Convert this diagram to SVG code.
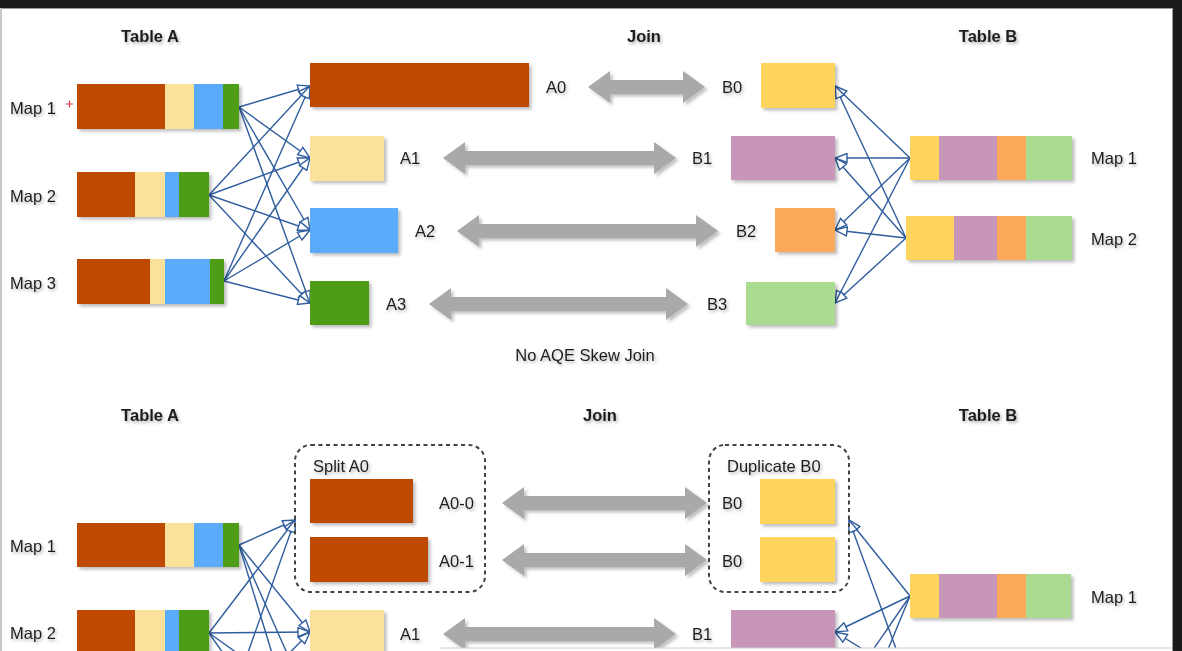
<svg xmlns="http://www.w3.org/2000/svg" width="1182" height="651" viewBox="0 0 1182 651">
<style>
.lbl{font-family:"Liberation Sans",Arial,sans-serif;font-size:16.5px;fill:#1e1e1e;filter:url(#tsh)}
.hdr{font-weight:bold}
.conn{stroke:#2f5d9e;stroke-width:1.4;fill:none;marker-end:url(#ah)}
.jar{fill:#a9a9a9;filter:url(#sh)}
.box{filter:url(#sh)}
.dash{fill:none;stroke:#444;stroke-width:2;stroke-dasharray:4 3.5}
.br{fill:#bf4a00}.ly{fill:#fbe19a}.bl{fill:#5aabfa}.gr{fill:#4d9d12}
.yb{fill:#fed45b}.pu{fill:#c796b8}.or{fill:#fda95c}.lg{fill:#a9db90}
</style>
<defs>
<filter id="sh" x="-10%" y="-20%" width="130%" height="150%"><feDropShadow dx="2.5" dy="2.5" stdDeviation="1.8" flood-color="#000" flood-opacity="0.25"/></filter>
<filter id="tsh" x="-10%" y="-30%" width="130%" height="170%"><feDropShadow dx="1.5" dy="2" stdDeviation="1.4" flood-color="#000" flood-opacity="0.3"/></filter>
<marker id="ah" markerUnits="userSpaceOnUse" viewBox="0 0 14 11" markerWidth="14" markerHeight="11" refX="13" refY="5.5" orient="auto"><path d="M1,1 L13,5.5 L1,10 Z" fill="#fff" stroke="#2f5d9e" stroke-width="1.4"/></marker>
</defs>
<rect x="0" y="0" width="1182" height="651" fill="#ffffff"/>

<g id="headers">
<text class="lbl hdr" x="150" y="42" text-anchor="middle">Table A</text>
<text class="lbl hdr" x="644" y="42" text-anchor="middle">Join</text>
<text class="lbl hdr" x="988" y="42" text-anchor="middle">Table B</text>
<text class="lbl" x="585" y="361" text-anchor="middle">No AQE Skew Join</text>
<text class="lbl hdr" x="150" y="421" text-anchor="middle">Table A</text>
<text class="lbl hdr" x="600" y="421" text-anchor="middle">Join</text>
<text class="lbl hdr" x="988" y="421" text-anchor="middle">Table B</text>
</g>

<g id="connectors">
<line class="conn" x1="239" y1="107" x2="310" y2="86"/>
<line class="conn" x1="239" y1="107" x2="310" y2="158"/>
<line class="conn" x1="239" y1="107" x2="310" y2="230"/>
<line class="conn" x1="239" y1="107" x2="310" y2="303"/>
<line class="conn" x1="209" y1="195" x2="310" y2="86"/>
<line class="conn" x1="209" y1="195" x2="310" y2="158"/>
<line class="conn" x1="209" y1="195" x2="310" y2="230"/>
<line class="conn" x1="209" y1="195" x2="310" y2="303"/>
<line class="conn" x1="224" y1="281" x2="310" y2="86"/>
<line class="conn" x1="224" y1="281" x2="310" y2="158"/>
<line class="conn" x1="224" y1="281" x2="310" y2="230"/>
<line class="conn" x1="224" y1="281" x2="310" y2="303"/>

<line class="conn" x1="910" y1="158" x2="835" y2="86"/>
<line class="conn" x1="910" y1="158" x2="835" y2="158"/>
<line class="conn" x1="910" y1="158" x2="835" y2="230"/>
<line class="conn" x1="910" y1="158" x2="835" y2="303"/>
<line class="conn" x1="906" y1="238" x2="835" y2="86"/>
<line class="conn" x1="906" y1="238" x2="835" y2="158"/>
<line class="conn" x1="906" y1="238" x2="835" y2="230"/>
<line class="conn" x1="906" y1="238" x2="835" y2="303"/>

<line class="conn" x1="239" y1="545" x2="295" y2="520"/>
<line class="conn" x1="239" y1="545" x2="310" y2="632"/>
<line class="conn" x1="239" y1="545" x2="310" y2="705"/>
<line class="conn" x1="239" y1="545" x2="310" y2="778"/>
<line class="conn" x1="209" y1="633" x2="295" y2="520"/>
<line class="conn" x1="209" y1="633" x2="310" y2="632"/>
<line class="conn" x1="209" y1="633" x2="310" y2="705"/>
<line class="conn" x1="209" y1="633" x2="310" y2="778"/>
<line class="conn" x1="224" y1="720" x2="295" y2="520"/>
<line class="conn" x1="224" y1="720" x2="310" y2="632"/>

<line class="conn" x1="910" y1="596" x2="849" y2="520"/>
<line class="conn" x1="910" y1="596" x2="835" y2="632"/>
<line class="conn" x1="910" y1="596" x2="835" y2="705"/>
<line class="conn" x1="910" y1="596" x2="835" y2="778"/>
<line class="conn" x1="906" y1="676" x2="849" y2="520"/>
<line class="conn" x1="906" y1="676" x2="835" y2="632"/>

<polygon class="jar" points="588,87 610,71 610,80 683,80 683,71 705,87 683,103 683,94 610,94 610,103"/>
<polygon class="jar" points="443,158 465,142 465,151 654,151 654,142 676,158 654,174 654,165 465,165 465,174"/>
<polygon class="jar" points="457,231 479,215 479,224 696,224 696,215 718,231 696,247 696,238 479,238 479,247"/>
<polygon class="jar" points="429,304 451,288 451,297 666,297 666,288 688,304 666,320 666,311 451,311 451,320"/>
<polygon class="jar" points="502,503 524,487 524,496 685,496 685,487 707,503 685,519 685,510 524,510 524,519"/>
<polygon class="jar" points="502,560 524,544 524,553 685,553 685,544 707,560 685,576 685,567 524,567 524,576"/>
<polygon class="jar" points="443,634 465,618 465,627 654,627 654,618 676,634 654,650 654,641 465,641 465,650"/>
</g>

<g id="topA-map1" class="box"><rect class="br" x="77" y="84" width="88" height="45"/><rect class="ly" x="165" y="84" width="29" height="45"/><rect class="bl" x="194" y="84" width="29" height="45"/><rect class="gr" x="223" y="84" width="16" height="45"/></g>
<g id="topA-map2" class="box"><rect class="br" x="77" y="172" width="58" height="45"/><rect class="ly" x="135" y="172" width="30" height="45"/><rect class="bl" x="165" y="172" width="14" height="45"/><rect class="gr" x="179" y="172" width="30" height="45"/></g>
<g id="topA-map3" class="box"><rect class="br" x="77" y="259" width="73" height="45"/><rect class="ly" x="150" y="259" width="15" height="45"/><rect class="bl" x="165" y="259" width="45" height="45"/><rect class="gr" x="210" y="259" width="14" height="45"/></g>
<g id="topA-labels">
<text class="lbl" x="10" y="114">Map 1</text>
<text class="lbl" x="10" y="202">Map 2</text>
<text class="lbl" x="10" y="289">Map 3</text>
<path d="M66,104 h7 M69.5,100.5 v7" stroke="#e0303a" stroke-width="1"/>
</g>

<g id="topA0"><rect class="br box" x="310" y="63" width="219" height="44"/><text class="lbl" x="546" y="93">A0</text></g>
<g id="topA1"><rect class="ly box" x="310" y="136" width="74" height="45"/><text class="lbl" x="400" y="164">A1</text></g>
<g id="topA2"><rect class="bl box" x="310" y="208" width="88" height="45"/><text class="lbl" x="415" y="237">A2</text></g>
<g id="topA3"><rect class="gr box" x="310" y="281" width="59" height="44"/><text class="lbl" x="386" y="310">A3</text></g>

<g id="topB0"><rect class="yb box" x="761" y="63" width="74" height="45"/><text class="lbl" x="722" y="93">B0</text></g>
<g id="topB1"><rect class="pu box" x="731" y="136" width="104" height="44"/><text class="lbl" x="692" y="164">B1</text></g>
<g id="topB2"><rect class="or box" x="775" y="208" width="60" height="44"/><text class="lbl" x="736" y="237">B2</text></g>
<g id="topB3"><rect class="lg box" x="746" y="282" width="89" height="43"/><text class="lbl" x="707" y="310">B3</text></g>

<g id="topB-map1"><g class="box"><rect class="yb" x="910" y="136" width="29" height="44"/><rect class="pu" x="939" y="136" width="58" height="44"/><rect class="or" x="997" y="136" width="29" height="44"/><rect class="lg" x="1026" y="136" width="46" height="44"/></g><text class="lbl" x="1091" y="164">Map 1</text></g>
<g id="topB-map2"><g class="box"><rect class="yb" x="906" y="216" width="48" height="44"/><rect class="pu" x="954" y="216" width="43" height="44"/><rect class="or" x="997" y="216" width="29" height="44"/><rect class="lg" x="1026" y="216" width="46" height="44"/></g><text class="lbl" x="1091" y="245">Map 2</text></g>

<g id="botA-map1"><g class="box"><rect class="br" x="77" y="523" width="88" height="44"/><rect class="ly" x="165" y="523" width="29" height="44"/><rect class="bl" x="194" y="523" width="29" height="44"/><rect class="gr" x="223" y="523" width="16" height="44"/></g><text class="lbl" x="10" y="552">Map 1</text></g>
<g id="botA-map2"><g class="box"><rect class="br" x="77" y="610" width="58" height="45"/><rect class="ly" x="135" y="610" width="30" height="45"/><rect class="bl" x="165" y="610" width="14" height="45"/><rect class="gr" x="179" y="610" width="30" height="45"/></g><text class="lbl" x="10" y="639">Map 2</text></g>

<g id="splitA0">
<rect class="dash" x="295" y="445" width="190" height="147" rx="16"/>
<text class="lbl" x="313" y="472">Split A0</text>
<rect class="br box" x="310" y="479" width="103" height="44"/>
<text class="lbl" x="439" y="509">A0-0</text>
<rect class="br box" x="310" y="537" width="118" height="45"/>
<text class="lbl" x="439" y="567">A0-1</text>
</g>
<g id="botA1"><rect class="ly box" x="310" y="610" width="74" height="45"/><text class="lbl" x="400" y="640">A1</text></g>

<g id="dupB0">
<rect class="dash" x="709" y="445" width="140" height="147" rx="16"/>
<text class="lbl" x="727" y="472">Duplicate B0</text>
<rect class="yb box" x="760" y="479" width="75" height="45"/>
<text class="lbl" x="722" y="509">B0</text>
<rect class="yb box" x="760" y="537" width="75" height="45"/>
<text class="lbl" x="722" y="567">B0</text>
</g>
<g id="botB1"><rect class="pu box" x="731" y="610" width="104" height="45"/><text class="lbl" x="692" y="640">B1</text></g>

<g id="botB-map1"><g class="box"><rect class="yb" x="910" y="574" width="29" height="44"/><rect class="pu" x="939" y="574" width="58" height="44"/><rect class="or" x="997" y="574" width="29" height="44"/><rect class="lg" x="1026" y="574" width="45" height="44"/></g><text class="lbl" x="1091" y="603">Map 1</text></g>

<g id="frame">
<rect x="440" y="648" width="732" height="3" fill="#ffffff"/>
<line x1="440" y1="648" x2="1172" y2="648" stroke="#cfcfcf" stroke-width="1"/>
<rect x="0" y="0" width="1182" height="8" fill="#1b1b1b"/>
<rect x="1173" y="0" width="9" height="651" fill="#1b1b1b"/>
<line x1="0" y1="8.5" x2="1173" y2="8.5" stroke="#9a9a9a" stroke-width="1"/>
<line x1="1172.5" y1="8" x2="1172.5" y2="651" stroke="#9a9a9a" stroke-width="1"/>
<line x1="1" y1="8" x2="1" y2="651" stroke="#c8c8c8" stroke-width="2"/>
</g>
</svg>
